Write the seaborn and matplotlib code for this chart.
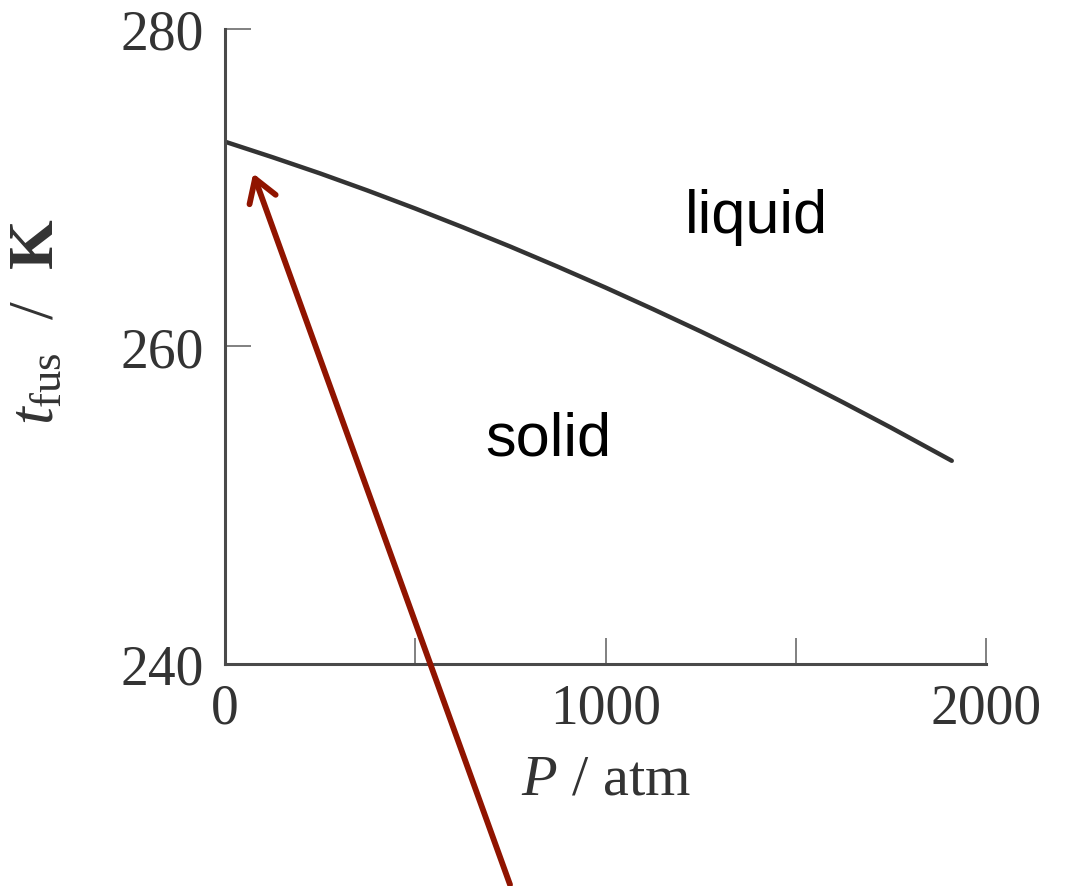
import matplotlib
matplotlib.use("Agg")
import matplotlib.pyplot as plt
import seaborn as sns
import pandas as pd

# Melting curve of ice: fusion temperature vs pressure
pressure_atm = [0, 125, 250, 375, 500, 625, 750, 875, 1000,
                1125, 1250, 1375, 1500, 1625, 1750, 1910]
t_fus_K = [272.9, 271.92, 270.90, 269.82, 268.69, 267.51, 266.29, 265.02, 263.71,
           262.35, 260.95, 259.50, 258.01, 256.47, 254.89, 252.8]

x_ticks = [0, 500, 1000, 1500, 2000]
x_tick_labels = ["0", "", "1000", "", "2000"]
y_ticks = [240, 260, 280]
y_tick_labels = ["240", "260", "280"]

phase_labels = ["liquid", "solid"]
phase_pos = [(1396, 268.2), (849, 254.2)]

arrow_tip = (74, 270.9)
arrow_tail = (749, 226.1)

sns.set_style("ticks")
plt.rcParams["font.family"] = ["Liberation Serif", "DejaVu Serif"]
plt.rcParams["mathtext.fontset"] = "custom"
plt.rcParams["mathtext.rm"] = "Liberation Serif"
plt.rcParams["mathtext.it"] = "Liberation Serif:italic"
plt.rcParams["mathtext.bf"] = "Liberation Serif:bold"

fig = plt.figure(figsize=(10.72, 8.87), dpi=100)
ax = fig.add_axes([0.2099, 0.2503, 0.7099, 0.7159])

df = pd.DataFrame({"P": pressure_atm, "T": t_fus_K})
sns.lineplot(data=df, x="P", y="T", ax=ax, color="#333333", linewidth=3.2)

ax.set_xlim(0, 2000)
ax.set_ylim(240, 280)

ax.set_xticks(x_ticks)
ax.set_xticklabels(x_tick_labels)
ax.set_yticks(y_ticks)
ax.set_yticklabels(y_tick_labels)

ax.tick_params(axis="both", direction="in", length=19, width=1.4,
               color="#808080", labelsize=40, labelcolor="#333333")
ax.tick_params(axis="x", pad=13)
ax.tick_params(axis="y", pad=15)

for side in ["top", "right"]:
    ax.spines[side].set_visible(False)
for side in ["left", "bottom"]:
    ax.spines[side].set_color("#4a4a4a")
    ax.spines[side].set_linewidth(2.2)

ax.set_xlabel(r"$\mathit{P}$ / atm", fontsize=42, color="#333333", labelpad=14)
ax.set_ylabel(r"$t_{\mathrm{fus}}$  /  $\mathbf{K}$", fontsize=46, color="#333333")
ax.yaxis.set_label_coords(-0.207, 0.54)

for label, (px, py) in zip(phase_labels, phase_pos):
    ax.text(px, py, label, fontsize=44, family="Liberation Sans",
            color="black", ha="center", va="center")

ax.annotate("", xy=arrow_tip, xytext=arrow_tail, annotation_clip=False,
            arrowprops=dict(arrowstyle="->,head_length=0.8,head_width=0.5",
                            mutation_scale=20, lw=4.2, color="#901400",
                            shrinkA=0, shrinkB=0))

fig.savefig("out.png", dpi=100)
